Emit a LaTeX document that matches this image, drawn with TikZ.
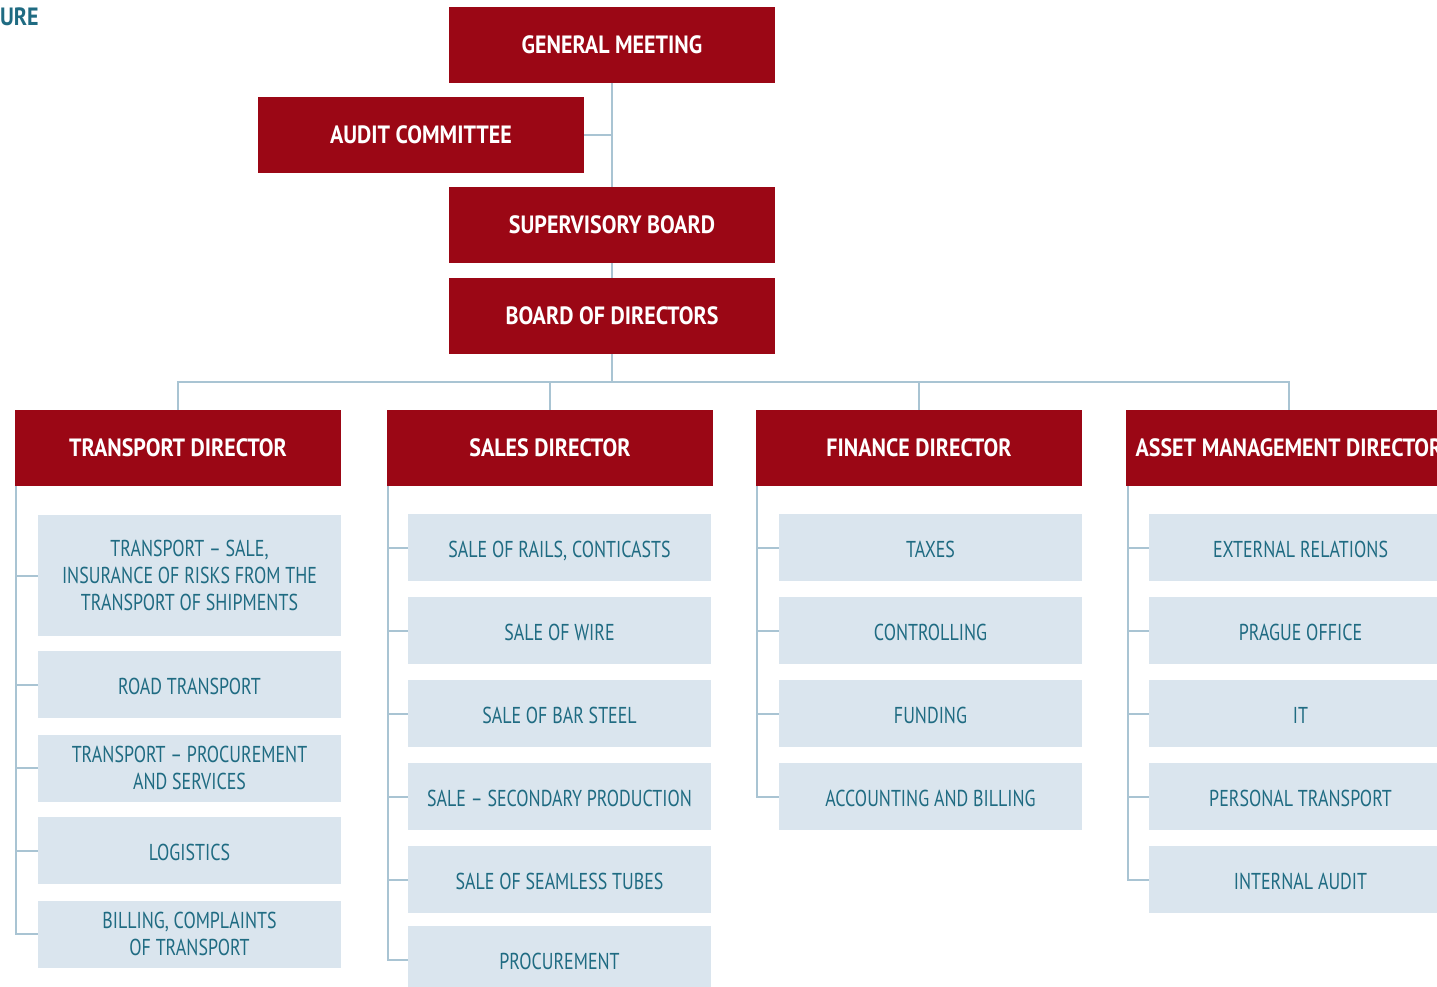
\documentclass[tikz,border=0pt]{standalone}
\usepackage{fontspec}
\setmainfont{PT Sans}[FakeStretch=0.78, BoldFeatures={FakeStretch=0.88}]
\definecolor{hred}{HTML}{9B0715}
\definecolor{lbox}{HTML}{DAE5EE}
\definecolor{tblue}{HTML}{1F6B82}
\definecolor{lcon}{HTML}{A9C4D3}
\tikzset{
  redbox/.style={fill=hred, text=white, font=\fontsize{25}{28}\selectfont\bfseries, minimum width=326pt, minimum height=76pt, inner sep=0pt, outer sep=0pt, align=center},
  subbox/.style={fill=lbox, text=tblue, font=\fontsize{23}{27}\selectfont, minimum width=303pt, minimum height=67pt, inner sep=0pt, outer sep=0pt, align=center},
  oneline/.style={text height=20.5pt, text depth=0pt},
  conn/.style={draw=lcon, line width=2pt}
}
\begin{document}
\begin{tikzpicture}[x=1pt,y=-1pt]
\useasboundingbox (0,0) rectangle (1437,987);
\node[text=tblue, font=\fontsize{25}{28}\selectfont\bfseries, anchor=west, inner sep=0pt] (title) at (0,17) {URE};
% top chain
\node[redbox] (gm) at (612,45) {GENERAL MEETING};
\node[redbox] (ac) at (421,135) {AUDIT COMMITTEE};
\node[redbox] (sb) at (612,225) {SUPERVISORY BOARD};
\node[redbox] (bod) at (612,316) {BOARD OF DIRECTORS};
\draw[conn] (gm.south) -- (sb.north);
\draw[conn] (ac.east) -- (ac.east -| gm.south);
\draw[conn] (sb.south) -- (bod.north);
% directors
\node[redbox] (td) at (178,448) {TRANSPORT DIRECTOR};
\node[redbox] (sd) at (550,448) {SALES DIRECTOR};
\node[redbox] (fd) at (919,448) {FINANCE DIRECTOR};
\node[redbox] (ad) at (1289,448) {ASSET MANAGEMENT DIRECTOR};
\coordinate (bus) at (612,382);
\draw[conn] (bod.south) -- (bus);
\draw[conn] (td.north) -- (td.north |- bus) -- (ad.north |- bus) -- (ad.north);
\draw[conn] (sd.north) -- (sd.north |- bus);
\draw[conn] (fd.north) -- (fd.north |- bus);
% transport column
\node[subbox, minimum height=121pt] (t1) at (189.5,575.5) {TRANSPORT – SALE,\\INSURANCE OF RISKS FROM THE\\TRANSPORT OF SHIPMENTS};
\node[subbox, oneline] (t2) at (189.5,684.5) {ROAD TRANSPORT};
\node[subbox] (t3) at (189.5,768) {TRANSPORT – PROCUREMENT\\AND SERVICES};
\node[subbox, oneline] (t4) at (189.5,850.5) {LOGISTICS};
\node[subbox] (t5) at (189.5,934) {BILLING, COMPLAINTS\\OF TRANSPORT};
\coordinate (tx) at (16,486);
\draw[conn] (tx) |- (t5.west);
\foreach \n in {t1,t2,t3,t4} \draw[conn] (\n.west -| tx) -- (\n.west);
% sales column
\node[subbox, oneline] (s1) at (559.5,547.5) {SALE OF RAILS, CONTICASTS};
\node[subbox, oneline] (s2) at (559.5,630.5) {SALE OF WIRE};
\node[subbox, oneline] (s3) at (559.5,713.5) {SALE OF BAR STEEL};
\node[subbox, oneline] (s4) at (559.5,796.5) {SALE – SECONDARY PRODUCTION};
\node[subbox, oneline] (s5) at (559.5,879.5) {SALE OF SEAMLESS TUBES};
\node[subbox, oneline] (s6) at (559.5,959.5) {PROCUREMENT};
\coordinate (sx) at (388,486);
\draw[conn] (sx) |- (s6.west);
\foreach \n in {s1,s2,s3,s4,s5} \draw[conn] (\n.west -| sx) -- (\n.west);
% finance column
\node[subbox, oneline] (f1) at (930.5,547.5) {TAXES};
\node[subbox, oneline] (f2) at (930.5,630.5) {CONTROLLING};
\node[subbox, oneline] (f3) at (930.5,713.5) {FUNDING};
\node[subbox, oneline] (f4) at (930.5,796.5) {ACCOUNTING AND BILLING};
\coordinate (fx) at (757,486);
\draw[conn] (fx) |- (f4.west);
\foreach \n in {f1,f2,f3} \draw[conn] (\n.west -| fx) -- (\n.west);
% asset column
\node[subbox, oneline] (a1) at (1300.5,547.5) {EXTERNAL RELATIONS};
\node[subbox, oneline] (a2) at (1300.5,630.5) {PRAGUE OFFICE};
\node[subbox, oneline] (a3) at (1300.5,713.5) {IT};
\node[subbox, oneline] (a4) at (1300.5,796.5) {PERSONAL TRANSPORT};
\node[subbox, oneline] (a5) at (1300.5,879.5) {INTERNAL AUDIT};
\coordinate (ax) at (1128,486);
\draw[conn] (ax) |- (a5.west);
\foreach \n in {a1,a2,a3,a4} \draw[conn] (\n.west -| ax) -- (\n.west);
\end{tikzpicture}
\end{document}
